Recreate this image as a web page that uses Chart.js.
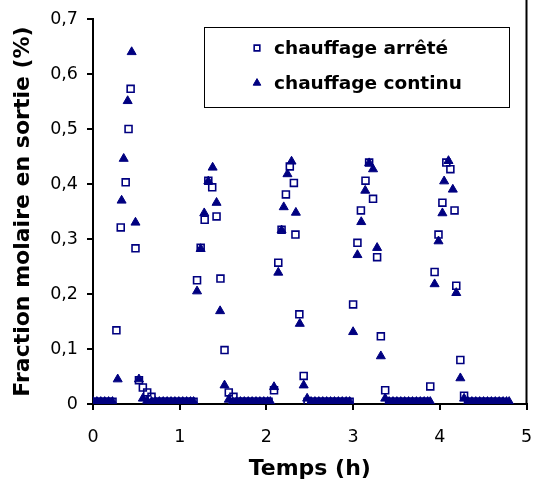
<!DOCTYPE html>
<html>
<head>
<meta charset="utf-8">
<script src="https://cdn.jsdelivr.net/npm/chart.js@4/dist/chart.umd.min.js"></script>
<style>
  html, body { margin: 0; padding: 0; background: #fff; }
  #wrap { width: 533px; height: 492px; position: relative; }
</style>
</head>
<body>
<div id="wrap"><canvas id="c" width="533" height="492"></canvas></div>
<script>
// ---- Data ----
const seriesLabels = ['chauffage arrêté', 'chauffage continu'];

const arreteTemps = [
  0, 0.045, 0.09, 0.135, 0.18, 0.225,
  0.27, 0.32, 0.377, 0.41, 0.434, 0.49, 0.53, 0.575, 0.625, 0.675,
  0.72, 0.765, 0.81, 0.855, 0.90, 0.945, 0.99, 1.035, 1.08, 1.125, 1.16,
  1.20, 1.242, 1.288, 1.33, 1.375, 1.425, 1.47, 1.517, 1.566, 1.62,
  1.665, 1.71, 1.755, 1.80, 1.845, 1.89, 1.935, 1.98, 2.025,
  2.088, 2.137, 2.175, 2.225, 2.27, 2.317, 2.335, 2.38, 2.43,
  2.475, 2.52, 2.565, 2.61, 2.655, 2.70, 2.745, 2.79, 2.835, 2.88, 2.925, 2.96,
  3.0, 3.05, 3.09, 3.143, 3.185, 3.23, 3.277, 3.32, 3.37,
  3.415, 3.46, 3.505, 3.55, 3.595, 3.64, 3.685, 3.73, 3.775, 3.82, 3.85,
  3.89, 3.94, 3.985, 4.03, 4.075, 4.122, 4.17, 4.19, 4.237, 4.28,
  4.325, 4.37, 4.415, 4.46, 4.505, 4.55, 4.595, 4.64, 4.685, 4.73
];
const arreteFraction = [
  0.004, 0.004, 0.004, 0.004, 0.004, 0.004,
  0.134, 0.321, 0.403, 0.500, 0.573, 0.283, 0.043, 0.030, 0.021, 0.013,
  0.004, 0.004, 0.004, 0.004, 0.004, 0.004, 0.004, 0.004, 0.004, 0.004, 0.004,
  0.225, 0.284, 0.335, 0.406, 0.394, 0.341, 0.228, 0.098, 0.021, 0.013,
  0.004, 0.004, 0.004, 0.004, 0.004, 0.004, 0.004, 0.004, 0.004,
  0.025, 0.257, 0.317, 0.381, 0.432, 0.402, 0.308, 0.163, 0.051,
  0.004, 0.004, 0.004, 0.004, 0.004, 0.004, 0.004, 0.004, 0.004, 0.004, 0.004, 0.004,
  0.181, 0.293, 0.352, 0.406, 0.439, 0.373, 0.267, 0.123, 0.025,
  0.004, 0.004, 0.004, 0.004, 0.004, 0.004, 0.004, 0.004, 0.004, 0.004, 0.004,
  0.032, 0.240, 0.308, 0.366, 0.439, 0.427, 0.352, 0.215, 0.080, 0.015,
  0.004, 0.004, 0.004, 0.004, 0.004, 0.004, 0.004, 0.004, 0.004, 0.004
];

const continuTemps = [
  0, 0.045, 0.09, 0.135, 0.18, 0.225,
  0.285, 0.33, 0.354, 0.40, 0.446, 0.49, 0.53, 0.575, 0.625,
  0.675, 0.72, 0.765, 0.81, 0.855, 0.90, 0.945, 0.99, 1.035, 1.08, 1.125, 1.16,
  1.20, 1.242, 1.283, 1.33, 1.38, 1.425, 1.466, 1.517, 1.566,
  1.61, 1.655, 1.70, 1.745, 1.79, 1.835, 1.88, 1.925, 1.97, 2.015, 2.045,
  2.088, 2.137, 2.175, 2.20, 2.243, 2.29, 2.34, 2.385, 2.43, 2.47,
  2.515, 2.56, 2.605, 2.65, 2.695, 2.74, 2.785, 2.83, 2.875, 2.92, 2.96,
  3.0, 3.05, 3.094, 3.14, 3.185, 3.23, 3.277, 3.32, 3.37,
  3.415, 3.46, 3.505, 3.55, 3.595, 3.64, 3.685, 3.73, 3.775, 3.82, 3.86, 3.89,
  3.94, 3.985, 4.03, 4.05, 4.10, 4.15, 4.19, 4.237, 4.28,
  4.325, 4.37, 4.415, 4.46, 4.505, 4.55, 4.595, 4.64, 4.685, 4.73, 4.77, 4.8
];
const continuFraction = [
  0.004, 0.004, 0.004, 0.004, 0.004, 0.004,
  0.045, 0.370, 0.446, 0.551, 0.640, 0.330, 0.045, 0.010, 0.006,
  0.004, 0.004, 0.004, 0.004, 0.004, 0.004, 0.004, 0.004, 0.004, 0.004, 0.004, 0.004,
  0.205, 0.282, 0.347, 0.405, 0.430, 0.366, 0.169, 0.034, 0.008,
  0.004, 0.004, 0.004, 0.004, 0.004, 0.004, 0.004, 0.004, 0.004, 0.004, 0.004,
  0.031, 0.239, 0.316, 0.358, 0.418, 0.441, 0.348, 0.146, 0.034, 0.010,
  0.004, 0.004, 0.004, 0.004, 0.004, 0.004, 0.004, 0.004, 0.004, 0.004, 0.004,
  0.131, 0.271, 0.331, 0.388, 0.438, 0.427, 0.284, 0.087, 0.010,
  0.004, 0.004, 0.004, 0.004, 0.004, 0.004, 0.004, 0.004, 0.004, 0.004, 0.004, 0.004,
  0.218, 0.296, 0.347, 0.405, 0.442, 0.390, 0.202, 0.047, 0.010,
  0.004, 0.004, 0.004, 0.004, 0.004, 0.004, 0.004, 0.004, 0.004, 0.004, 0.004, 0.004
];

const xTickValues = [0, 1, 2, 3, 4, 5];
const xTickLabels = ['0', '1', '2', '3', '4', '5'];
const yTickValues = [0, 0.1, 0.2, 0.3, 0.4, 0.5, 0.6, 0.7];
const yTickLabels = ['0', '0,1', '0,2', '0,3', '0,4', '0,5', '0,6', '0,7'];
const xTitle = 'Temps (h)';
const yTitle = 'Fraction molaire en sortie (%)';

// ---- Styles ----
const NAVY = '#000080';
const tickFont = { family: 'DejaVu Sans', size: 17.5, lineHeight: 1.2 };
const titleFontFamily = 'DejaVu Sans';

function toPoints(xs, ys) { return xs.map((t, i) => ({ x: t, y: ys[i] })); }

const legendPlugin = {
  id: 'boxLegend',
  afterDraw(chart) {
    const ctx = chart.ctx;
    const area = chart.chartArea;
    ctx.save();
    // right frame line
    ctx.strokeStyle = '#000';
    ctx.lineWidth = 2;
    ctx.beginPath();
    ctx.moveTo(area.right, 0);
    ctx.lineTo(area.right, area.bottom);
    ctx.stroke();
    // legend box
    const bx = 204.5, by = 27.5, bw = 305, bh = 80;
    ctx.fillStyle = '#fff';
    ctx.fillRect(bx, by, bw, bh);
    ctx.lineWidth = 1;
    ctx.strokeStyle = '#000';
    ctx.strokeRect(bx, by, bw, bh);
    const rows = [48, 83];
    const ds = chart.data.datasets;
    rows.forEach((ry, i) => {
      const d = ds[i];
      ctx.strokeStyle = d.borderColor;
      ctx.fillStyle = d.backgroundColor;
      ctx.lineWidth = d.pointBorderWidth;
      Chart.helpers.drawPoint(ctx, {
        pointStyle: d.pointStyle,
        radius: i === 0 ? 4 : 4.4,
        borderWidth: d.pointBorderWidth,
        rotation: 0
      }, 257, ry);
      ctx.fillStyle = '#000';
      ctx.font = 'bold 18.5px "DejaVu Sans"';
      ctx.textBaseline = 'middle';
      ctx.textAlign = 'left';
      ctx.fillText(seriesLabels[i], 274, ry + 1);
    });
    ctx.restore();
  }
};

new Chart(document.getElementById('c'), {
  type: 'scatter',
  data: {
    datasets: [
      {
        label: seriesLabels[0],
        data: toPoints(arreteTemps, arreteFraction),
        pointStyle: 'rect',
        pointRadius: 4.9,
        pointBorderWidth: 1.6,
        borderColor: NAVY,
        backgroundColor: 'rgba(0,0,0,0)',
        order: 1
      },
      {
        label: seriesLabels[1],
        data: toPoints(continuTemps, continuFraction),
        pointStyle: 'triangle',
        pointRadius: 5.2,
        pointBorderWidth: 1,
        borderColor: NAVY,
        backgroundColor: NAVY,
        order: 0
      }
    ]
  },
  options: {
    responsive: false,
    animation: false,
    events: [],
    layout: { padding: { top: 19, right: 5, left: 0, bottom: 0 } },
    plugins: { legend: { display: false }, tooltip: { enabled: false } },
    scales: {
      x: {
        type: 'linear',
        min: 0, max: 5,
        afterBuildTicks: s => { s.ticks = xTickValues.map(v => ({ value: v })); },
        afterFit: s => { s.height = 88; s.paddingLeft = 0; s.paddingRight = 0; },
        ticks: {
          color: '#000',
          font: tickFont,
          padding: 17,
          maxRotation: 0,
          callback: (v, i) => xTickLabels[i]
        },
        grid: { display: true, drawOnChartArea: false, drawTicks: true, tickLength: 6, color: '#000', lineWidth: 2 },
        border: { display: true, color: '#000', width: 2 },
        title: {
          display: true, text: xTitle, color: '#000',
          font: { family: titleFontFamily, size: 22, weight: 'bold', lineHeight: 1.2 },
          padding: { top: 0, bottom: 10 }
        }
      },
      y: {
        type: 'linear',
        min: 0, max: 0.7,
        afterBuildTicks: s => { s.ticks = yTickValues.map(v => ({ value: v })); },
        afterFit: s => { s.width = 93; s.paddingTop = 0; s.paddingBottom = 0; },
        ticks: {
          color: '#000',
          font: tickFont,
          padding: 9,
          callback: (v, i) => yTickLabels[i]
        },
        grid: { display: true, drawOnChartArea: false, drawTicks: true, tickLength: 6, color: '#000', lineWidth: 2 },
        border: { display: true, color: '#000', width: 2 },
        title: {
          display: true, text: yTitle, color: '#000',
          font: { family: titleFontFamily, size: 22, weight: 'bold', lineHeight: 1.2 },
          padding: { top: 10, bottom: 0 }
        }
      }
    }
  },
  plugins: [legendPlugin]
});
</script>
</body>
</html>
